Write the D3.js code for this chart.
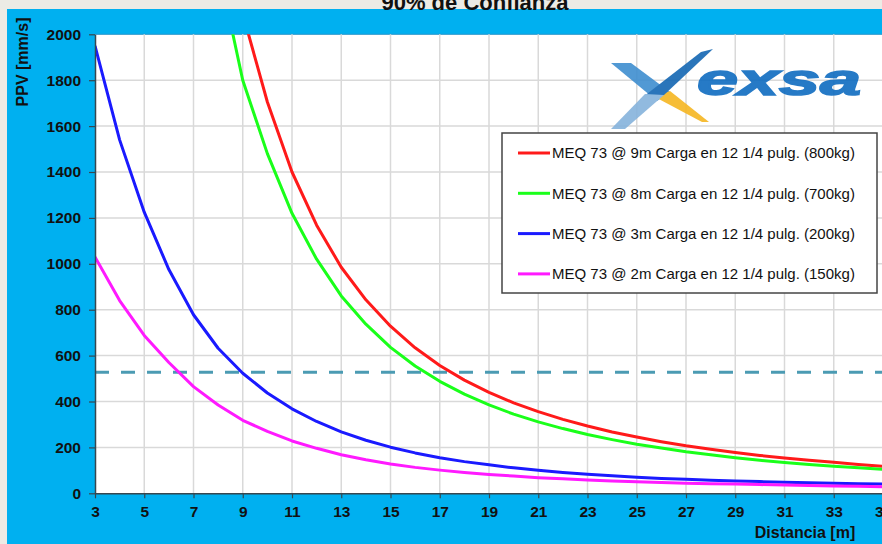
<!DOCTYPE html>
<html>
<head>
<meta charset="utf-8">
<script src="https://cdn.jsdelivr.net/npm/d3@7"></script>
<style>
  html, body { margin: 0; padding: 0; background: #ecebe5; overflow: hidden; }
  svg { display: block; font-family: "Liberation Sans", Arial, sans-serif; }
</style>
</head>
<body>
<svg id="chart" width="882" height="544"></svg>
<script>
// Distances (m) and peak particle velocity (mm/s) per charge configuration
const distances = d3.range(3, 36);

const seriesNames = [
  "MEQ 73 @ 9m Carga en 12 1/4 pulg. (800kg)",
  "MEQ 73 @ 8m Carga en 12 1/4 pulg. (700kg)",
  "MEQ 73 @ 3m Carga en 12 1/4 pulg. (200kg)",
  "MEQ 73 @ 2m Carga en 12 1/4 pulg. (150kg)"
];
const seriesColors = ["#ff1a1a", "#1aff1a", "#1a1aff", "#ff1aff"];

// null where the curve is not computed (far above the axis range)
const ppv800 = [null, null, null, null, null, null, 2090, 1705, 1400, 1168, 985, 843, 728, 634, 557, 493,
  440, 394, 356, 322, 293, 267, 245, 225, 207, 192, 178, 165, 154, 144, 135, 126, 118];
const ppv700 = [null, null, null, null, null, 2300, 1800, 1480, 1220, 1020, 860, 737, 636, 555, 488, 432,
  385, 345, 311, 282, 256, 234, 214, 197, 181, 168, 155, 144, 134, 126, 118, 111, 105];
const ppv200 = [1950, 1540, 1225, 975, 778, 632, 523, 437, 368, 313, 268, 231, 201, 176, 155, 138,
  124, 111, 100, 91, 83, 76, 70, 65, 61, 57, 54, 51, 48, 46, 44, 42, 40];
const ppv150 = [1030, 840, 688, 570, 465, 385, 318, 270, 228, 196, 168, 146, 128, 113, 101, 91,
  82, 75, 68, 63, 58, 54, 50, 47, 44, 42, 40, 38, 36, 34, 32, 31, 29];

const seriesValues = [ppv800, ppv700, ppv200, ppv150];

// Allowed PPV limit (dashed reference line)
const ppvLimit = 527;

const xTicks = d3.range(3, 36, 2);
const yTicks = d3.range(0, 2001, 200);

const titleText = "90% de Confianza";
const xTitle = "Distancia [m]";
const yTitle = "PPV [mm/s]";

// ---------------------------------------------------------------
const svg = d3.select("#chart");
const W = 882, H = 544;
const plot = { left: 95, top: 34.3, right: 883, bottom: 493.3 };

const x = d3.scaleLinear().domain([3, 35]).range([plot.left, plot.right]);
const y = d3.scaleLinear().domain([0, 2000]).range([plot.bottom, plot.top]);

// page background and chart panel
svg.append("rect").attr("width", W).attr("height", H).attr("fill", "#ecebe5");
svg.append("rect").attr("x", 7).attr("y", 9).attr("width", W).attr("height", H)
  .attr("fill", "#00b0f0");

// title (sits at the upper edge of the panel)
svg.append("text")
  .attr("x", 475).attr("y", 10)
  .attr("text-anchor", "middle")
  .attr("font-size", 22).attr("font-weight", "bold").attr("fill", "#111")
  .text(titleText);

// plot area
svg.append("rect")
  .attr("x", plot.left).attr("y", plot.top)
  .attr("width", plot.right - plot.left + 10).attr("height", plot.bottom - plot.top)
  .attr("fill", "#ffffff");
svg.append("line")
  .attr("x1", plot.left).attr("x2", W)
  .attr("y1", plot.top).attr("y2", plot.top)
  .attr("stroke", "#2a98cc").attr("stroke-width", 1);

// gridlines
const grid = svg.append("g").attr("stroke", "#d9d9d9").attr("stroke-width", 1.5);
grid.selectAll("line.v").data(xTicks.slice(1)).join("line")
  .attr("class", "v")
  .attr("x1", d => x(d)).attr("x2", d => x(d))
  .attr("y1", plot.top).attr("y2", plot.bottom);
grid.selectAll("line.h").data(yTicks.slice(1, -1)).join("line")
  .attr("class", "h")
  .attr("x1", plot.left).attr("x2", W)
  .attr("y1", d => y(d)).attr("y2", d => y(d));

// logo
const logo = svg.append("g").attr("opacity", 0.9);
logo.append("polygon").attr("points", "611,63 631,63 670,92 657,101").attr("fill", "#3f8ed0");
logo.append("polygon").attr("points", "655,97 670,91 709,122 702,122").attr("fill", "#f6b622");
logo.append("polygon").attr("points", "713,49 701,52 643,97 664,95").attr("fill", "#1467b3");
logo.append("polygon").attr("points", "645,94 664,95 625,129 611,129").attr("fill", "#86b3dc");
logo.append("text")
  .attr("x", 697).attr("y", 95)
  .attr("font-size", 44).attr("font-weight", "bold").attr("font-style", "italic")
  .attr("fill", "#0f6cc0").attr("stroke", "#0f6cc0").attr("stroke-width", 1.6)
  .attr("textLength", 164).attr("lengthAdjust", "spacingAndGlyphs")
  .text("exsa");

// clip for the curves
svg.append("clipPath").attr("id", "plotClip")
  .append("rect")
  .attr("x", plot.left).attr("y", plot.top)
  .attr("width", W - plot.left).attr("height", plot.bottom - plot.top);

// limit line
svg.append("line")
  .attr("x1", plot.left).attr("x2", W)
  .attr("y1", y(ppvLimit)).attr("y2", y(ppvLimit))
  .attr("stroke", "#4b9bb3").attr("stroke-width", 3)
  .attr("stroke-dasharray", "14,12");

// curves
const line = d3.line()
  .defined(d => d[1] != null)
  .x(d => x(d[0])).y(d => y(d[1]));

const curves = svg.append("g").attr("clip-path", "url(#plotClip)");
seriesValues.forEach((vals, i) => {
  curves.append("path")
    .datum(distances.map((d, k) => [d, vals[k]]))
    .attr("fill", "none")
    .attr("stroke", seriesColors[i])
    .attr("stroke-width", 3)
    .attr("stroke-linejoin", "round")
    .attr("d", line);
});

// axes
const axisColor = "#37474f";
const yAxis = svg.append("g")
  .attr("transform", `translate(${plot.left},0)`)
  .call(d3.axisLeft(y).tickValues(yTicks).tickFormat(d3.format("d"))
    .tickSize(6).tickPadding(8).tickSizeOuter(0));
const xAxis = svg.append("g")
  .attr("transform", `translate(0,${plot.bottom})`)
  .call(d3.axisBottom(x).tickValues(xTicks).tickFormat(d3.format("d"))
    .tickSize(5).tickPadding(8).tickSizeOuter(0));

[xAxis, yAxis].forEach(g => {
  g.select(".domain").attr("stroke", axisColor).attr("stroke-width", 1.5);
  g.selectAll(".tick line").attr("stroke", axisColor).attr("stroke-width", 1.2);
  g.selectAll(".tick text")
    .attr("font-family", "Liberation Sans, Arial, sans-serif")
    .attr("font-size", 15.5).attr("font-weight", "bold").attr("fill", "#111");
});
xAxis.select(".domain").attr("d", `M${plot.left},0.5H${W}`);

// axis titles
svg.append("text")
  .attr("transform", "translate(28,62) rotate(-90)")
  .attr("text-anchor", "middle")
  .attr("font-size", 16).attr("font-weight", "bold").attr("fill", "#111")
  .text(yTitle);
svg.append("text")
  .attr("x", 805).attr("y", 538)
  .attr("text-anchor", "middle")
  .attr("font-size", 16).attr("font-weight", "bold").attr("fill", "#111")
  .text(xTitle);

// legend
const legend = svg.append("g");
legend.append("rect")
  .attr("x", 502).attr("y", 133).attr("width", 375).attr("height", 160)
  .attr("fill", "#ffffff").attr("stroke", "#444").attr("stroke-width", 1.5);
seriesNames.forEach((name, i) => {
  const ly = 153 + i * 40.3;
  legend.append("line")
    .attr("x1", 518).attr("x2", 550).attr("y1", ly).attr("y2", ly)
    .attr("stroke", seriesColors[i]).attr("stroke-width", 3);
  legend.append("text")
    .attr("x", 552).attr("y", ly).attr("dy", "0.35em")
    .attr("font-size", 15).attr("fill", "#111")
    .text(name);
});
</script>
</body>
</html>
